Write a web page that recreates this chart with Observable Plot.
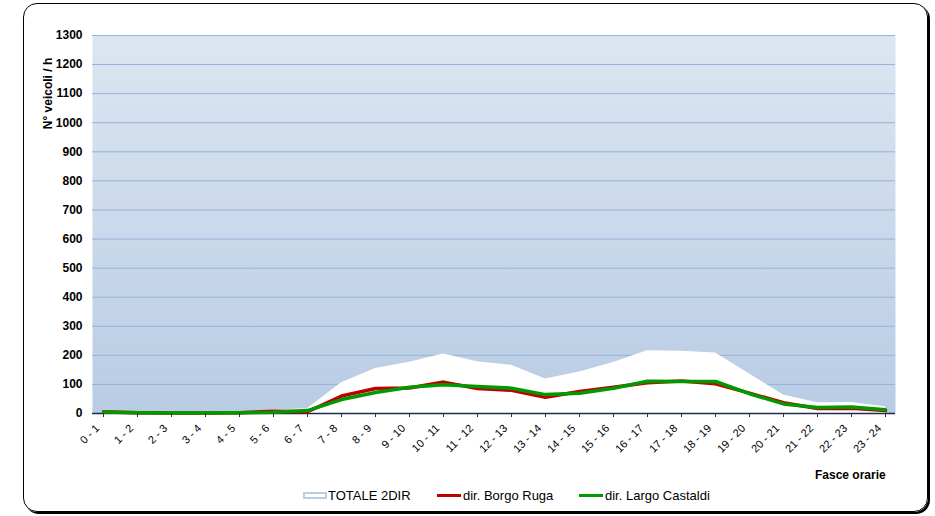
<!DOCTYPE html>
<html><head><meta charset="utf-8">
<script src="https://cdn.jsdelivr.net/npm/d3@7"></script>
<script src="https://cdn.jsdelivr.net/npm/@observablehq/plot@0.6"></script>
<style>
body{margin:0;background:#fff;font-family:"Liberation Sans",Arial,sans-serif;}
#wrap{position:relative;width:935px;height:516px;overflow:hidden;}
#border{position:absolute;left:23px;top:3px;width:903px;height:507px;border:1px solid #000;border-radius:14px;box-shadow:2px 2px 0 #000;}
#chart{position:absolute;left:0;top:0;}
#xlabel{position:absolute;left:815px;top:468px;font-weight:bold;font-size:12px;line-height:15px;color:#000;}
.lt{position:absolute;top:488px;font-size:13px;line-height:16px;color:#000;white-space:nowrap;}
.ls{position:absolute;}
</style></head>
<body>
<div id="wrap">
  <div id="border"></div>
  <div id="chart"></div>
  <div id="xlabel">Fasce orarie</div>
  <div class="ls" style="left:303px;top:492px;width:20px;height:3px;border:2px solid #b9cde5;background:#fff;"></div>
  <div class="lt" style="left:328px;">TOTALE 2DIR</div>
  <div class="ls" style="left:437px;top:494px;width:24px;height:3px;background:#c00000;"></div>
  <div class="lt" style="left:463px;">dir. Borgo Ruga</div>
  <div class="ls" style="left:579px;top:494px;width:24px;height:3px;background:#009a00;"></div>
  <div class="lt" style="left:605px;">dir. Largo Castaldi</div>
</div>
<script>
const hours = ["0 - 1","1 - 2","2 - 3","3 - 4","4 - 5","5 - 6","6 - 7","7 - 8","8 - 9","9 - 10","10 - 11","11 - 12","12 - 13","13 - 14","14 - 15","15 - 16","16 - 17","17 - 18","18 - 19","19 - 20","20 - 21","21 - 22","22 - 23","23 - 24"];
const totale = [11,6,4,4,6,12,16,106,155,176,205,178,166,119,143,175,216,214,208,136,64,37,38,23];
const borgoRuga = [6,3,2,2,3,8,6,60,86,88,108,86,80,56,76,90,106,112,102,70,37,17,18,10];
const largoCastaldi = [5,3,2,2,3,4,10,48,72,90,99,93,87,65,70,87,111,110,110,68,33,21,22,13];
const yTicks = [0,100,200,300,400,500,600,700,800,900,1000,1100,1200,1300];

const data = hours.map((h,i)=>({h, tot: totale[i], br: borgoRuga[i], lc: largoCastaldi[i]}));

const svg = Plot.plot({
  width: 935,
  height: 460,
  marginLeft: 92,
  marginRight: 40,
  marginTop: 35,
  marginBottom: 47,
  style: {fontFamily: "'Liberation Sans', Arial, sans-serif", background: "transparent", overflow: "visible"},
  x: {type: "point", domain: hours, padding: 0},
  y: {domain: [0, 1300]},
  marks: [
    Plot.frame({fill: "url(#bgGrad)", stroke: null}),
    Plot.ruleY(yTicks.filter(d => d > 0), {stroke: "#95b3d7", strokeWidth: 1}),
    Plot.areaY(data, {x: "h", y: "tot", fill: "#ffffff"}),
    Plot.ruleY([0], {stroke: "#1f2d4d", strokeWidth: 1.5}),
    Plot.lineY(data, {x: "h", y: "br", stroke: "#c00000", strokeWidth: 3.5}),
    Plot.lineY(data, {x: "h", y: "lc", stroke: "#009a00", strokeWidth: 3.5}),
    Plot.axisY({ticks: yTicks, tickFormat: d => String(d), tickSize: 0, tickPadding: 10, fontWeight: "bold", fontSize: 12, label: null, color: "#000"}),
    Plot.axisX({tickRotate: -45, tickSize: 4, tickPadding: 4, fontSize: 11, label: null, color: "#000", stroke: "#333", textStroke: null}),
    Plot.text(["N° veicoli / h"], {frameAnchor: "top-left", dx: -49, dy: 58, rotate: -90, fontWeight: "bold", fontSize: 12, textAnchor: "middle", fill: "#000"})
  ]
});
// shift rotated x tick labels slightly down-left to match the reference placement
svg.querySelectorAll('g[aria-label="x-axis tick label"]').forEach(g => {
  const t = g.getAttribute("transform") || "";
  g.setAttribute("transform", t + " translate(-6,5)");
});
svg.insertAdjacentHTML("afterbegin", '<defs><linearGradient id="bgGrad" x1="0" y1="0" x2="0" y2="1"><stop offset="0" stop-color="#dce6f2"/><stop offset="1" stop-color="#b8cce4"/></linearGradient></defs>');
document.getElementById("chart").appendChild(svg);
</script>
</body></html>
